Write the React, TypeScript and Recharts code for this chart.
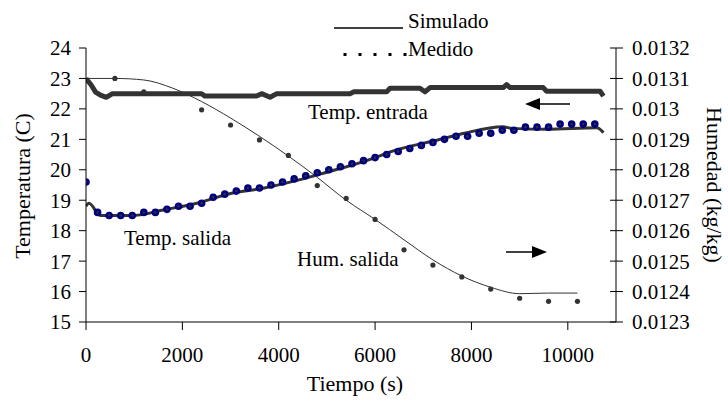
import { ComposedChart, Line, XAxis, YAxis } from "recharts";

// time axis (s)
const xTicks = [0, 2000, 4000, 6000, 8000, 10000];
const tempTicks = [15, 16, 17, 18, 19, 20, 21, 22, 23, 24];
const humTicks = [0.0123, 0.0124, 0.0125, 0.0126, 0.0127, 0.0128, 0.0129, 0.013, 0.0131, 0.0132];

// Temp. entrada (simulado / medido overlap, thick band)
const entradaT = [0, 100, 200, 300, 420, 550, 2400, 2470, 3540, 3645, 3820, 3960, 5480, 5560, 6240, 6310, 6930, 7036, 7140, 8660, 8730, 8800, 9490, 9560, 10670, 10740];
const entradaV = [23.0, 22.8, 22.55, 22.45, 22.38, 22.5, 22.5, 22.42, 22.42, 22.5, 22.38, 22.5, 22.5, 22.56, 22.56, 22.68, 22.68, 22.56, 22.7, 22.7, 22.8, 22.7, 22.7, 22.58, 22.58, 22.42];

// Temp. salida simulado
const salidaSimT = [0, 60, 300, 1000, 1600, 2300, 3000, 3700, 4400, 5070, 5300, 6000, 6300, 7300, 7850, 8650, 8850, 9560, 10600, 10740];
const salidaSimV = [18.8, 18.9, 18.5, 18.5, 18.68, 18.9, 19.22, 19.4, 19.66, 19.95, 20.05, 20.4, 20.58, 20.98, 21.2, 21.41, 21.36, 21.33, 21.38, 21.22];

// Temp. salida medido (every 240 s)
const salidaMedV = [
  19.6, 18.6, 18.5, 18.5, 18.5, 18.6, 18.6, 18.7, 18.8, 18.8, 18.9, 19.1, 19.2, 19.3, 19.4, 19.4,
  19.5, 19.6, 19.7, 19.8, 19.9, 20.0, 20.1, 20.2, 20.3, 20.4, 20.5, 20.6, 20.7, 20.8, 20.9, 21.0,
  21.1, 21.1, 21.2, 21.2, 21.3, 21.3, 21.4, 21.4, 21.4, 21.5, 21.5, 21.5, 21.5,
];
const salidaMedT = salidaMedV.map((_, i) => i * 240);

// Hum. salida simulado (kg/kg)
const humSimT = [0, 600, 1200, 1800, 2400, 3000, 3600, 4200, 4800, 5400, 6000, 6600, 7200, 7800, 8400, 9000, 9600, 10200];
const humSimV = [0.0131, 0.0131, 0.013095, 0.013068, 0.013024, 0.01297, 0.01291, 0.012845, 0.012775, 0.0127, 0.012637, 0.01257, 0.012504, 0.012451, 0.012414, 0.012393, 0.012395, 0.012395];

// Hum. salida medido
const humMedT = [600, 1200, 2400, 3000, 3600, 4200, 4800, 5400, 6000, 6600, 7200, 7800, 8400, 9000, 9600, 10200];
const humMedV = [0.0131, 0.013056, 0.012997, 0.012947, 0.012898, 0.012847, 0.012748, 0.012706, 0.012637, 0.012537, 0.012487, 0.012448, 0.012408, 0.012378, 0.012368, 0.012368];

const zip = (t: number[], v: number[]) => t.map((x, i) => ({ t: x, v: v[i] }));

const FONT = '"Liberation Serif", "Times New Roman", serif';
const FS = 21;
const INK = "#333333";

function SalidaDot(props: any) {
  const { cx, cy } = props;
  if (cx == null || cy == null) return null;
  return (
    <g>
      <circle cx={cx} cy={cy} r={3.8} fill="#000080" />
      <circle cx={cx} cy={cy} r={1.2} fill="#333" />
    </g>
  );
}

function RightTick(props: any) {
  const { x, y, payload } = props;
  const ax = x - 7 - 9;
  return (
    <g>
      <line x1={ax - 6} x2={ax + 7} y1={y} y2={y} stroke="#000" strokeWidth={1} />
      <text x={x} y={y} dy="0.355em" fontFamily={FONT} fontSize={FS} fill="#000">
        {Number(payload.value.toFixed(4)).toString()}
      </text>
    </g>
  );
}

export default function App() {
  const tick = { fontFamily: FONT, fontSize: FS, fill: "#000" };
  return (
    <div style={{ position: "absolute", left: 0, top: 0, width: 728, height: 407, background: "#fff" }}>
      <ComposedChart width={728} height={407} margin={{ top: 48, right: 0, bottom: 0, left: 0 }}>
        <XAxis
          dataKey="t"
          type="number"
          domain={[0, 11000]}
          ticks={xTicks}
          allowDataOverflow
          height={85}
          tick={tick}
          tickSize={8}
          tickMargin={17}
          axisLine={{ stroke: "#000" }}
          tickLine={{ stroke: "#000" }}
        />
        <YAxis
          yAxisId="left"
          domain={[15, 24]}
          ticks={tempTicks}
          width={86}
          tick={tick}
          tickSize={7}
          tickMargin={8}
          axisLine={{ stroke: "#000" }}
          tickLine={{ stroke: "#000" }}
          interval={0}
        />
        <YAxis
          yAxisId="right"
          orientation="right"
          domain={[0.0123, 0.0132]}
          ticks={humTicks}
          width={112}
          tick={<RightTick />}
          tickSize={7}
          tickMargin={9}
          axisLine={{ stroke: "#000" }}
          tickLine={false}
          interval={0}
        />
        <Line yAxisId="right" data={zip(humSimT, humSimV)} dataKey="v" type="monotone" stroke={INK} strokeWidth={1} dot={false} isAnimationActive={false} />
        <Line yAxisId="right" data={zip(humMedT, humMedV)} dataKey="v" stroke="none" dot={{ r: 2.6, fill: INK, stroke: "none" }} isAnimationActive={false} />
        <Line yAxisId="left" data={zip(entradaT, entradaV)} dataKey="v" type="linear" stroke={INK} strokeWidth={5} strokeLinejoin="round" dot={false} isAnimationActive={false} />
        <Line yAxisId="left" data={zip(salidaSimT, salidaSimV)} dataKey="v" type="monotone" stroke={INK} strokeWidth={3} dot={false} isAnimationActive={false} />
        <Line yAxisId="left" data={zip(salidaMedT, salidaMedV)} dataKey="v" stroke="none" dot={<SalidaDot />} isAnimationActive={false} />
      </ComposedChart>
      <svg width={728} height={407} style={{ position: "absolute", left: 0, top: 0, pointerEvents: "none" }} fontFamily={FONT}>
        {/* legend */}
        <line x1={334} x2={403} y1={28} y2={28} stroke="#000" strokeWidth={1.5} />
        <text x={408} y={28} fontSize={FS}>Simulado</text>
        {[345, 360, 375, 390, 405].map((x) => (
          <rect key={x} x={x - 1.5} y={53} width={3} height={3} fill="#000" />
        ))}
        <text x={408} y={56} fontSize={FS}>Medido</text>
        {/* annotations */}
        <text x={308} y={119} fontSize={FS}>Temp. entrada</text>
        <text x={124} y={245} fontSize={FS}>Temp. salida</text>
        <text x={297} y={266} fontSize={FS}>Hum. salida</text>
        <line x1={537} x2={570} y1={104} y2={104} stroke="#000" strokeWidth={1.5} />
        <polygon points="525,104 540,98 540,110" fill="#000" />
        <line x1={506} x2={534} y1={252} y2={252} stroke="#000" strokeWidth={1.5} />
        <polygon points="547,252 532,246 532,258" fill="#000" />
        {/* axis titles */}
        <text x={22} y={186} fontSize={FS + 1} textAnchor="middle" dominantBaseline="central" transform="rotate(-90 22 186)">Temperatura (C)</text>
        <text x={714} y={185} fontSize={FS + 1} textAnchor="middle" dominantBaseline="central" transform="rotate(90 714 185)">Humedad (kg/kg)</text>
        <text x={355} y={391} fontSize={FS + 1} textAnchor="middle">Tiempo (s)</text>
      </svg>
    </div>
  );
}
